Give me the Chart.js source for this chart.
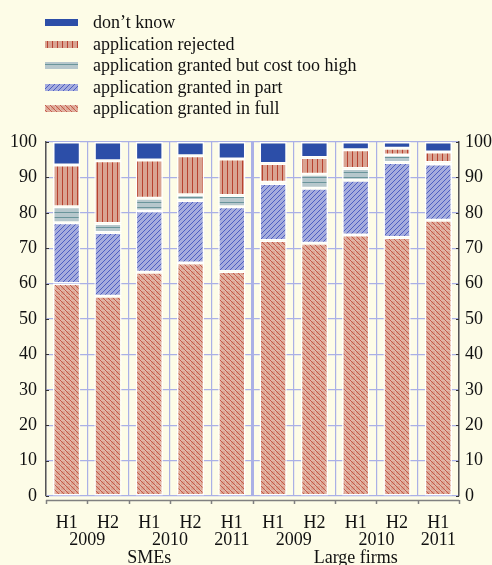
<!DOCTYPE html>
<html>
<head>
<meta charset="utf-8">
<script src="https://cdn.jsdelivr.net/npm/chart.js@4.4.0/dist/chart.umd.min.js"></script>
<style>
  html, body { margin: 0; padding: 0; background: #fdfce7; }
  #wrap { position: relative; width: 492px; height: 565px; overflow: hidden; }
  #legend { position: absolute; left: 45px; top: 12px; font-family: "Liberation Serif", "DejaVu Serif", serif; font-size: 18px; color: #111; }
  #legend .row { height: 21.5px; line-height: 21.5px; white-space: nowrap; }
  #legend canvas { width: 33px; height: 7px; vertical-align: middle; margin-right: 15px; position: relative; top: -1px; }
</style>
</head>
<body>
<div id="wrap">
  <canvas id="chart" width="492" height="565"></canvas>
  <div id="legend"></div>
</div>
<script>
const periods = ["H1", "H2", "H1", "H2", "H1", "H1", "H2", "H1", "H2", "H1"];
const years = ["2009", "2009", "2010", "2010", "2011", "2009", "2009", "2010", "2010", "2011"];
const firmGroups = ["SMEs", "SMEs", "SMEs", "SMEs", "SMEs", "Large firms", "Large firms", "Large firms", "Large firms", "Large firms"];

const grantedFull = [60.0, 56.4, 63.2, 65.8, 63.4, 72.2, 71.4, 73.7, 73.0, 77.9];
const grantedPart = [17.2, 18.0, 17.3, 17.7, 18.3, 16.1, 15.5, 15.5, 21.2, 15.9];
const costTooHigh = [4.5, 2.6, 3.6, 1.6, 3.2, 0.3, 4.0, 3.3, 2.1, 0.4];
const rejected = [11.8, 17.7, 10.8, 11.0, 10.3, 5.3, 4.7, 5.3, 1.9, 3.0];
const dontKnow = [6.5, 5.3, 5.1, 3.9, 4.8, 6.1, 4.4, 2.2, 1.8, 2.8];

const yTicks = [0, 10, 20, 30, 40, 50, 60, 70, 80, 90, 100];

const serif = '"Liberation Serif", "DejaVu Serif", serif';
const gridBlue = "#aab0e6";

// small tiles for the hatched fills
function tile(w, h, draw) {
    const c = document.createElement("canvas");
    c.width = w;
    c.height = h;
    draw(c.getContext("2d"), w, h);
    return c;
}

const tiles = {
    full: tile(5, 5, (g) => {
        g.fillStyle = "#dca592";
        g.fillRect(0, 0, 5, 5);
        g.fillStyle = "rgba(255,255,255,0.22)";
        g.fillRect(0, 0, 5, 1);
        g.fillRect(0, 0, 1, 5);
        g.fillStyle = "#c5594a";
        for (let i = 0; i < 5; i++) g.fillRect(i, i, 1, 1);
    }),
    part: tile(5, 5, (g) => {
        g.fillStyle = "#a5acdd";
        g.fillRect(0, 0, 5, 5);
        g.fillStyle = "#4d5fc2";
        for (let i = 0; i < 5; i++) g.fillRect(i, 4 - i, 1, 1);
    }),
    cost: tile(5, 5, (g) => {
        g.fillStyle = "#b6c7cc";
        g.fillRect(0, 0, 5, 5);
        g.fillStyle = "#6a959b";
        g.fillRect(0, 2, 5, 1);
    }),
    rejected: tile(5, 5, (g) => {
        g.fillStyle = "#d9a392";
        g.fillRect(0, 0, 5, 5);
        g.fillStyle = "#b8412f";
        g.fillRect(2, 0, 1, 5);
    }),
    dk: tile(5, 5, (g) => {
        g.fillStyle = "#2c4ea8";
        g.fillRect(0, 0, 5, 5);
    })
};

const canvas = document.getElementById("chart");
const ctx = canvas.getContext("2d");
function pat(name) {
    return ctx.createPattern(tiles[name], "repeat");
}

const seriesInfo = [
    { label: "application granted in full", data: grantedFull, tile: "full" },
    { label: "application granted in part", data: grantedPart, tile: "part" },
    { label: "application granted but cost too high", data: costTooHigh, tile: "cost" },
    { label: "application rejected", data: rejected, tile: "rejected" },
    { label: "don\u2019t know", data: dontKnow, tile: "dk" }
];

// year + group labels under the H1/H2 ticks, bottom axis line, inward y ticks
const xLabelsPlugin = {
    id: "xLabels",
    afterDraw(chart) {
        const x = chart.scales.x;
        const y = chart.scales.y;
        const area = chart.chartArea;
        const c = chart.ctx;
        c.save();
        const step = (x.right - x.left) / periods.length;
        c.strokeStyle = "#808080";
        c.lineWidth = 1.5;
        c.beginPath();
        c.moveTo(x.left, area.bottom + 4.5);
        c.lineTo(x.right, area.bottom + 4.5);
        for (let i = 0; i <= periods.length; i++) {
            const px = Math.round(x.left + i * step) + 0.5;
            c.moveTo(px, area.bottom + 4);
            c.lineTo(px, area.bottom + 8);
        }
        c.stroke();

        c.strokeStyle = "#333";
        c.lineWidth = 1.2;
        c.beginPath();
        yTicks.forEach((v) => {
            const py = Math.round(y.getPixelForValue(v)) + 0.5;
            c.moveTo(area.left, py);
            c.lineTo(area.left + 3, py);
            c.moveTo(area.right, py);
            c.lineTo(area.right - 3, py);
        });
        c.stroke();

        c.fillStyle = "#111";
        c.font = "18px " + serif;
        c.textAlign = "center";
        c.textBaseline = "alphabetic";
        // years
        let start = 0;
        for (let i = 1; i <= years.length; i++) {
            if (i === years.length || years[i] !== years[start] || firmGroups[i] !== firmGroups[start]) {
                const cx = (x.getPixelForValue(start) + x.getPixelForValue(i - 1)) / 2;
                c.fillText(years[start], cx, area.bottom + 49);
                start = i;
            }
        }
        // groups
        start = 0;
        for (let i = 1; i <= firmGroups.length; i++) {
            if (i === firmGroups.length || firmGroups[i] !== firmGroups[start]) {
                const cx = (x.getPixelForValue(start) + x.getPixelForValue(i - 1)) / 2;
                c.fillText(firmGroups[start], cx, area.bottom + 67);
                start = i;
            }
        }
        c.restore();
    }
};

const yScale = (position) => ({
    position: position,
    stacked: true,
    min: 0,
    max: 100,
    afterBuildTicks: (s) => { s.ticks = yTicks.map((v) => ({ value: v })); },
    afterFit: (s) => { s.width = position === "left" ? 46 : 33; },
    grid: {
        drawOnChartArea: position === "left",
        color: gridBlue,
        lineWidth: 1.2,
        drawTicks: false
    },
    border: { display: true, color: "#555", width: 1.5 },
    ticks: {
        color: "#111",
        padding: position === "left" ? 9 : 6,
        font: { family: serif, size: 18 }
    }
});

const chart = new Chart(ctx, {
    type: "bar",
    data: {
        labels: periods,
        datasets: seriesInfo.map((s) => ({
            label: s.label,
            data: s.data,
            backgroundColor: pat(s.tile),
            borderColor: "rgba(255,255,255,0.95)",
            borderWidth: 1.5,
            borderSkipped: false,
            categoryPercentage: 1,
            barPercentage: 0.66,
            yAxisID: "y"
        }))
    },
    options: {
        responsive: false,
        animation: false,
        devicePixelRatio: 1,
        layout: { padding: { top: 142, left: 0, right: 0, bottom: 0 } },
        plugins: {
            legend: { display: false },
            tooltip: { enabled: false }
        },
        scales: {
            x: {
                stacked: true,
                afterFit: (s) => { s.height = 69; },
                grid: {
                    offset: true,
                    color: gridBlue,
                    lineWidth: (c) => (c.index === 5 ? 3 : 1.2),
                    drawTicks: false
                },
                border: { display: false },
                ticks: {
                    color: "#111",
                    padding: 16,
                    maxRotation: 0,
                    autoSkip: false,
                    font: { family: serif, size: 18 }
                }
            },
            y: yScale("left"),
            y2: yScale("right")
        }
    },
    plugins: [xLabelsPlugin]
});

// html legend, top series first
const legend = document.getElementById("legend");
seriesInfo.slice().reverse().forEach((s) => {
    const row = document.createElement("div");
    row.className = "row";
    const sw = document.createElement("canvas");
    sw.width = 33;
    sw.height = 7;
    const g = sw.getContext("2d");
    g.fillStyle = g.createPattern(tiles[s.tile], "repeat");
    g.fillRect(0, 0, 33, 7);
    row.appendChild(sw);
    row.appendChild(document.createTextNode(s.label));
    legend.appendChild(row);
});
</script>
</body>
</html>
